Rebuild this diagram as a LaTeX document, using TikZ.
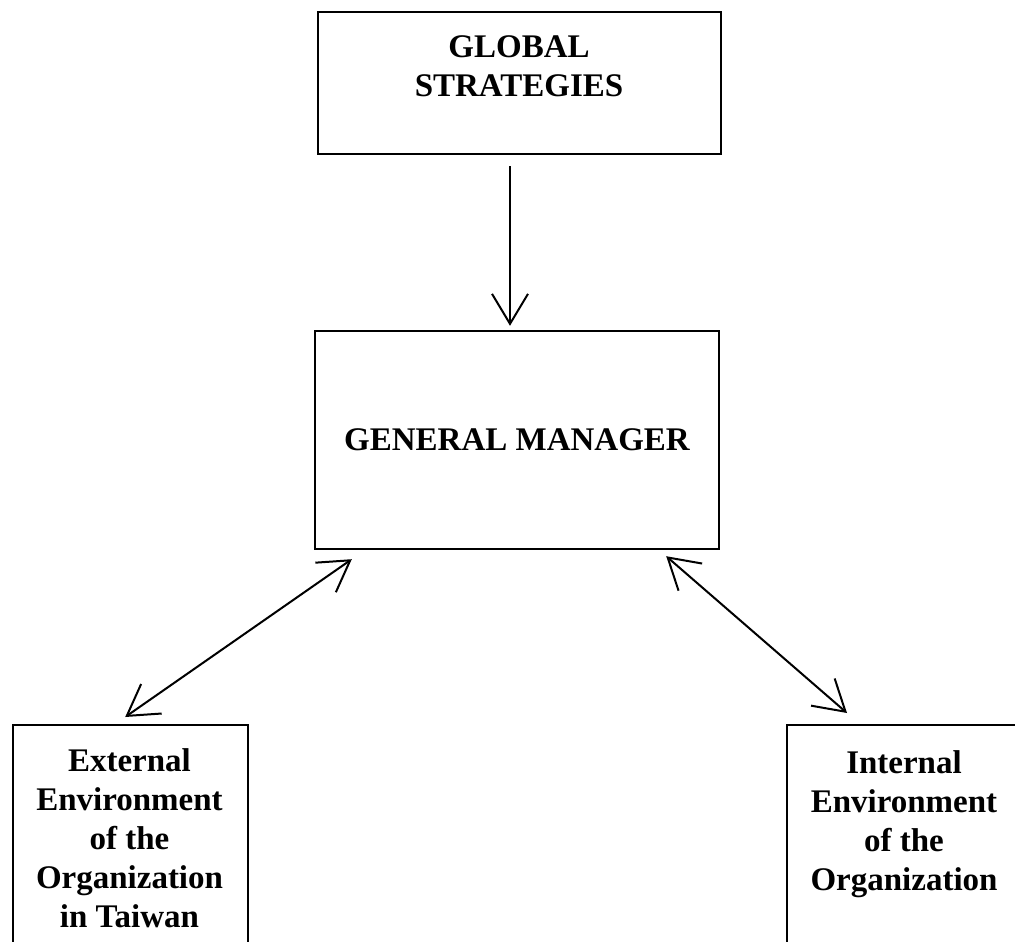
\documentclass[tikz,border=0pt]{standalone}
\usepackage{fontspec}
\setmainfont{Liberation Serif}
\usetikzlibrary{arrows.meta,calc}
\begin{document}
\begin{tikzpicture}[x=1pt,y=-1pt,
  box/.style={draw, line width=2.4pt, rectangle, inner sep=0pt},
  lbl/.style={font=\fontsize{33}{39}\selectfont\bfseries, align=center, inner sep=0pt, anchor=north},
  conn/.style={line width=2pt},
  >={Straight Barb[length=30pt,width=36pt]}]
\useasboundingbox[fill=white] (0,0) rectangle (1015,942);
\clip (0,0) rectangle (1015,942);
% boxes
\node[box, minimum width=403pt, minimum height=142pt] (gs) at (519.5,83) {};
\node[lbl] (gst) at (519,35) {GLOBAL\\STRATEGIES};
\node[box, minimum width=404pt, minimum height=218pt, font=\fontsize{33}{39}\selectfont\bfseries] (gm) at (517,440) {GENERAL MANAGER};
\node[box, minimum width=235pt, minimum height=280pt, anchor=north west] (ext) at (12,724) {};
\node[lbl] (extt) at (129.5,748) {External\\Environment\\of the\\Organization\\in Taiwan};
\node[box, minimum width=250pt, minimum height=280pt, anchor=north west] (int) at (786,724) {};
\node[lbl] (intt) at (904,750) {Internal\\Environment\\of the\\Organization};
% connectors
\draw[conn,->] ($(gs.south)+(-9.5,11)$) -- ($(gm.north)+(-7,-4)$);
\draw[conn,<->] ($(gm.south west)+(38,9)$) -- ($(ext.north)+(-5.5,-7)$);
\draw[conn,<->] ($(gm.south east)+(-54,6)$) -- ($(int.north west)+(61,-11)$);
\end{tikzpicture}
\end{document}
